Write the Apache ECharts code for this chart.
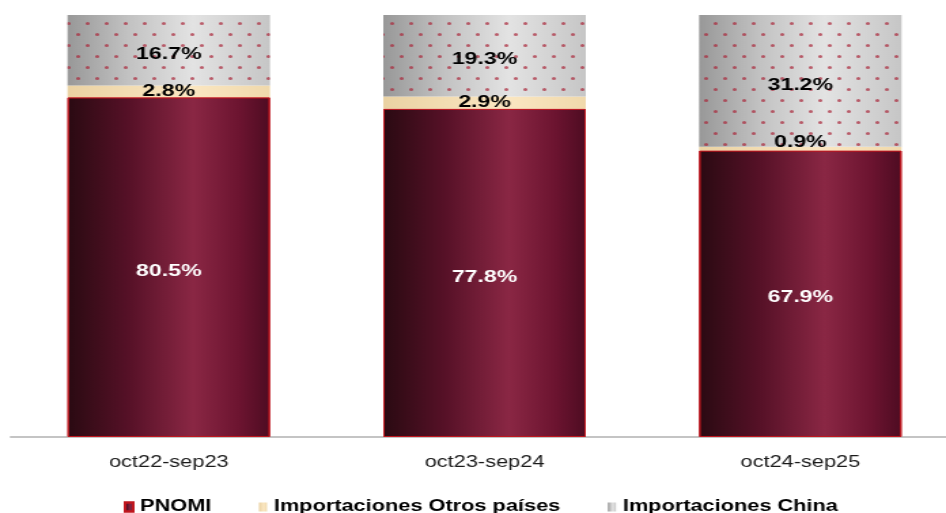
<!DOCTYPE html>
<html>
<head>
<meta charset="utf-8">
<script src="https://cdn.jsdelivr.net/npm/echarts@6/dist/echarts.min.js"></script>
<style>
  html, body { margin: 0; padding: 0; background: #fff; overflow: hidden; }
  #chart { width: 696px; height: 513px; transform: scaleX(1.3592); transform-origin: 0 0; }
</style>
</head>
<body>
<div id="chart"></div>
<script>
const categories = ['oct22-sep23', 'oct23-sep24', 'oct24-sep25'];
const seriesNames = ['PNOMI', 'Importaciones Otros países', 'Importaciones China'];
const pnomi = [80.5, 77.8, 67.9];
const otros = [2.8, 2.9, 0.9];
const china = [16.7, 19.3, 31.2];

const chart = echarts.init(document.getElementById('chart'));

function hGrad(stops) {
  return new echarts.graphic.LinearGradient(0, 0, 1, 0,
    stops.map(s => ({ offset: s[0], color: s[1] })));
}

const pnomiFill = hGrad([[0, '#2a0a12'], [0.3, '#561127'], [0.62, '#8a2744'], [0.85, '#6c1430'], [1, '#4e0c22']]);
const otrosFill = hGrad([[0, '#ead2a3'], [0.6, '#fbe7c2'], [1, '#f0d9ac']]);
const chinaFill = hGrad([[0, '#989898'], [0.3, '#c2c2c2'], [0.62, '#e3e3e3'], [1, '#c6c6c6']]);

const noDecal = { symbol: 'none' };
const labelFont = { fontFamily: 'Liberation Sans, Arial, sans-serif', fontWeight: 'bold', fontSize: 17 };

chart.setOption({
  animation: false,
  aria: { enabled: true, decal: { show: true } },
  grid: { left: 8, width: 697, top: 15, bottom: 76, containLabel: false, outerBoundsMode: 'none' },
  xAxis: {
    type: 'category',
    data: categories,
    axisLine: { lineStyle: { color: '#c4c4c4', width: 2 } },
    axisTick: { show: false },
    axisLabel: { color: '#1a1a1a', fontSize: 16, fontFamily: 'Liberation Sans, Arial, sans-serif', margin: 18 }
  },
  yAxis: { type: 'value', min: 0, max: 100, show: false, splitLine: { show: false } },
  legend: {
    left: 86,
    top: 494,
    itemWidth: 6,
    itemHeight: 9,
    itemGap: 35,
    icon: 'rect',
    textStyle: { color: '#000', fontSize: 16, fontWeight: 'bold', fontFamily: 'Liberation Sans, Arial, sans-serif' },
    data: seriesNames
  },
  series: [
    {
      name: seriesNames[0], type: 'bar', stack: 'total', barWidth: 149,
      data: pnomi,
      itemStyle: { color: pnomiFill, borderColor: '#c0161e', borderWidth: 1, decal: noDecal },
      label: Object.assign({ show: true, position: 'inside', color: '#fff', offset: [0, 4], formatter: p => p.value.toFixed(1) + '%' }, labelFont)
    },
    {
      name: seriesNames[1], type: 'bar', stack: 'total',
      data: otros.map((v, i) => i === 2 ? { value: v, label: { offset: [0, -6] } } : v),
      itemStyle: { color: otrosFill, decal: noDecal },
      label: Object.assign({ show: true, position: 'inside', color: '#000', formatter: p => p.value.toFixed(1) + '%' }, labelFont)
    },
    {
      name: seriesNames[2], type: 'bar', stack: 'total',
      data: china,
      itemStyle: {
        color: chinaFill,
        decal: {
          symbol: 'circle',
          symbolSize: 1,
          color: 'rgba(170,35,55,0.7)',
          dashArrayX: [[2.5, 10.5], [0, 6.5, 2.5, 4]],
          dashArrayY: [2.5, 7.5],
          rotation: 0
        }
      },
      label: Object.assign({ show: true, position: 'inside', color: '#000', offset: [0, 4], formatter: p => p.value.toFixed(1) + '%' }, labelFont)
    }
  ]
});
</script>
</body>
</html>
